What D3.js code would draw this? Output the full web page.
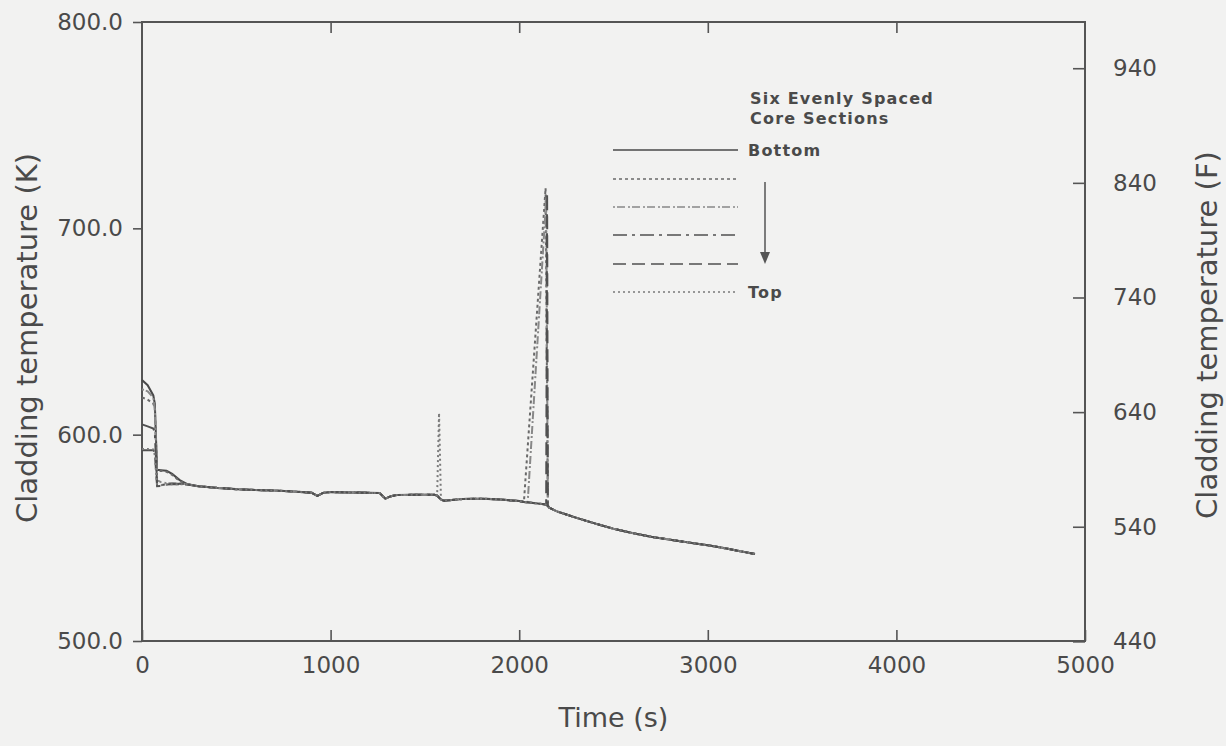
<!DOCTYPE html>
<html><head><meta charset="utf-8">
<script src="https://cdn.jsdelivr.net/npm/d3@7"></script>
<style>
html,body{margin:0;padding:0;background:#f2f2f1;}
svg{display:block;}
text{font-family:"DejaVu Sans",Verdana,sans-serif;fill:#4a4a4a;}
</style></head>
<body><svg id="c" width="1226" height="746"></svg>
<script>
// ---- data ----
const timeS = [0,30,60,68,80,100,130,160,200,240,300,400,500,600,700,800,900,930,960,1000,1100,1200,1260,1290,1320,1350,1450,1550,1565,1575,1585,1600,1700,1800,1900,2000,2025,2045,2140,2143,2148,2152,2160,2200,2300,2400,2500,2600,2700,2800,2900,3000,3100,3200,3250];
const sec1 = [626.5,624,619,615,583,582.8,582.5,581,578,576,575.0,574.2,573.6,573.2,572.9,572.5,571.8,570.3,571.8,572.2,572.0,571.8,571.7,569.0,570.2,570.7,570.9,570.9,570.5,569.5,568.6,568.0,568.8,569.0,568.6,567.8,567.4,567.2,566.2,566.0,565.8,565.5,564.6,562.8,559.8,557.0,554.4,552.3,550.5,549.1,547.7,546.4,544.8,543.0,542.2];
const sec2 = [618,617,615,613,582,582.5,582,580.5,577.5,576,575.0,574.2,573.6,573.2,572.9,572.5,571.8,570.3,571.8,572.2,572.0,571.8,571.7,569.0,570.2,570.7,570.9,570.9,570.5,569.5,568.6,568.0,568.8,569.0,568.6,567.8,567.4,593.8,719.5,681.0,617.0,565.5,564.6,562.8,559.8,557.0,554.4,552.3,550.5,549.1,547.7,546.4,544.8,543.0,542.2];
const sec3 = [622,621,618,612,578,577,576.5,576.5,576.3,576,575.0,574.2,573.6,573.2,572.9,572.5,571.8,570.3,571.8,572.2,572.0,571.8,571.7,569.0,570.2,570.7,570.9,570.9,570.5,569.5,568.6,568.0,568.8,569.0,568.6,567.8,567.4,567.2,709.5,714.0,631.5,565.5,564.6,562.8,559.8,557.0,554.4,552.3,550.5,549.1,547.7,546.4,544.8,543.0,542.2];
const sec4 = [605,604,603,601,576,575.5,576,576.2,576.2,576,575.0,574.2,573.6,573.2,572.9,572.5,571.8,570.3,571.8,572.2,572.0,571.8,571.7,569.0,570.2,570.7,570.9,570.9,570.5,569.5,568.6,568.0,568.8,569.0,568.6,567.8,567.4,567.2,566.2,566.0,565.8,565.5,564.6,562.8,559.8,557.0,554.4,552.3,550.5,549.1,547.7,546.4,544.8,543.0,542.2];
const sec5 = [592.5,592.5,592.5,591,575,575.2,575.8,576,576,575.8,575.0,574.2,573.6,573.2,572.9,572.5,571.8,570.3,571.8,572.2,572.0,571.8,571.7,569.0,570.2,570.7,570.9,570.9,570.5,569.5,568.6,568.0,568.8,569.0,568.6,567.8,567.4,567.2,566.2,566.0,717.0,565.5,564.6,562.8,559.8,557.0,554.4,552.3,550.5,549.1,547.7,546.4,544.8,543.0,542.2];
const sec6 = [593,593,592.8,590,576,575.5,575.8,576,576,576,575.0,574.2,573.6,573.2,572.9,572.5,571.8,570.3,571.8,572.2,572.0,571.8,571.7,569.0,570.2,570.7,570.9,570.9,570.5,610.5,568.6,568.0,568.8,569.0,568.6,567.8,567.4,567.2,566.2,566.0,565.8,565.5,564.6,562.8,559.8,557.0,554.4,552.3,550.5,549.1,547.7,546.4,544.8,543.0,542.2];
const seriesNames = ["Bottom","2","3","4","5","Top"];
const seriesVals = [sec1,sec2,sec3,sec4,sec5,sec6];
const xTicks = [0,1000,2000,3000,4000,5000];
const kTicks = [500,600,700,800];
const fTicks = [440,540,640,740,840,940];

// ---- styles ----
const dashes = [null,"3,3","2,2,8,3","14,5,3,5","13,6","2,3"];
const strokes = ["#484848","#6a6a6a","#888","#505050","#505050","#7a7a7a"];

const svg = d3.select("#c");
const L=142, R=1085, T=22, B=641;
const x = d3.scaleLinear().domain([0,5000]).range([L,R]);
const yK = d3.scaleLinear().domain([500,800]).range([B,T]);
const yF = d3.scaleLinear().domain([500*9/5-459.67, 800*9/5-459.67]).range([B,T]);

const g = svg.append("g");
g.append("rect").attr("x",L).attr("y",T).attr("width",R-L).attr("height",B-T)
  .attr("fill","none").attr("stroke","#555").attr("stroke-width",2);

function styleAxis(sel){
  sel.select(".domain").remove();
  sel.selectAll(".tick line").attr("stroke","#555").attr("stroke-width",1.6);
  sel.selectAll(".tick text").style("font-size","23px").attr("fill","#505050");
}
const axL = g.append("g").attr("transform",`translate(${L},0)`)
  .call(d3.axisLeft(yK).tickValues(kTicks).tickFormat(d3.format(".1f")).tickSize(9).tickPadding(10));
styleAxis(axL);
const axR = g.append("g").attr("transform",`translate(${R},0)`)
  .call(d3.axisRight(yF).tickValues(fTicks).tickFormat(d3.format("d")).tickSize(-12).tickPadding(28));
styleAxis(axR);
const axB = g.append("g").attr("transform",`translate(0,${B})`)
  .call(d3.axisBottom(x).tickValues(xTicks).tickFormat(d3.format("d")).tickSize(-11).tickPadding(16));
styleAxis(axB);
const axT = g.append("g").attr("transform",`translate(0,${T})`)
  .call(d3.axisTop(x).tickValues(xTicks.slice(1,-1)).tickFormat("").tickSize(-11));
styleAxis(axT);

svg.append("text").attr("transform",`translate(27,338) rotate(-90)`).attr("dy","0.35em")
  .attr("text-anchor","middle").style("font-size","29px").text("Cladding temperature (K)");
svg.append("text").attr("transform",`translate(1207,335) rotate(-90)`).attr("dy","0.35em")
  .attr("text-anchor","middle").style("font-size","29px").text("Cladding temperature (F)");
svg.append("text").attr("x",(L+R)/2).attr("y",727).attr("text-anchor","middle")
  .style("font-size","27px").text("Time (s)");

const line = d3.line().x((d,i)=>x(timeS[i])).y(d=>yK(d));
seriesVals.forEach((vals,i)=>{
  g.append("path").datum(vals).attr("d",line).attr("fill","none")
    .attr("stroke",strokes[i]).attr("stroke-width",2)
    .attr("stroke-dasharray",dashes[i]);
});

const lg = svg.append("g");
const legFont = "16px";
const ls = "1.2px";
lg.append("text").attr("x",750).attr("y",104).style("font-size",legFont).style("font-weight","bold").style("letter-spacing",ls).text("Six Evenly Spaced");
lg.append("text").attr("x",750).attr("y",124).style("font-size",legFont).style("font-weight","bold").style("letter-spacing",ls).text("Core Sections");
const legY = [150,179,207,235,264,292];
seriesNames.forEach((n,i)=>{
  lg.append("line").attr("x1",613).attr("x2",738).attr("y1",legY[i]).attr("y2",legY[i])
    .attr("stroke",strokes[i]).attr("stroke-width",1.6).attr("stroke-dasharray",dashes[i]);
  if(i===0||i===5){
    lg.append("text").attr("x",748).attr("y",legY[i]).attr("dy","0.35em")
      .style("font-size",legFont).style("font-weight","bold").style("letter-spacing",ls).text(n);
  }
});
lg.append("line").attr("x1",765).attr("x2",765).attr("y1",182).attr("y2",256).attr("stroke","#555").attr("stroke-width",1.5);
lg.append("path").attr("d",`M760,252 L770,252 L765,264 Z`).attr("fill","#555");
</script></body></html>
